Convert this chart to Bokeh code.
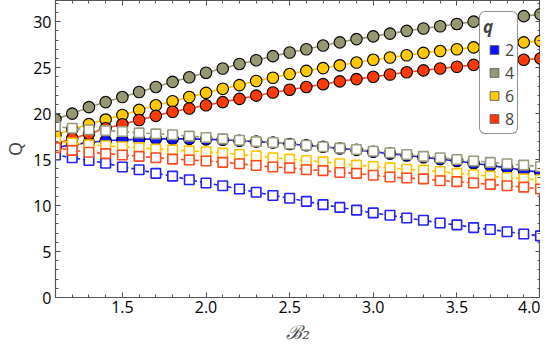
from bokeh.plotting import figure
from bokeh.models import (Range1d, LinearAxis, SingleIntervalTicker, Legend,
                          LegendItem, NumeralTickFormatter, CustomJSTickFormatter)
from bokeh.embed import file_html
from bokeh.resources import INLINE

# ---------------- data ----------------
B2 = [1.1, 1.2, 1.3, 1.4, 1.5, 1.6, 1.7, 1.8, 1.9, 2.0,
      2.1, 2.2, 2.3, 2.4, 2.5, 2.6, 2.7, 2.8, 2.9, 3.0,
      3.1, 3.2, 3.3, 3.4, 3.5, 3.6, 3.7, 3.8, 3.9, 4.0]

q_labels = ["2", "4", "6", "8"]

# solid lines with filled circles
circ_q2 = [16.3, 16.6, 16.85, 17.05, 17.15, 17.2, 17.25, 17.25, 17.25, 17.2,
           17.15, 17.05, 16.95, 16.85, 16.7, 16.55, 16.4, 16.2, 16.05, 15.85,
           15.65, 15.45, 15.25, 15.05, 14.85, 14.6, 14.35, 14.1, 13.85, 13.6]
circ_q4 = [19.4, 20.0, 20.7, 21.25, 21.8, 22.35, 22.9, 23.45, 23.95, 24.45,
           24.9, 25.4, 25.8, 26.25, 26.65, 27.0, 27.4, 27.75, 28.1, 28.4,
           28.7, 29.0, 29.25, 29.5, 29.75, 30.0, 30.2, 30.4, 30.6, 30.8]
circ_q6 = [17.7, 18.3, 18.85, 19.35, 19.85, 20.4, 20.9, 21.35, 21.8, 22.25,
           22.7, 23.1, 23.55, 23.9, 24.3, 24.65, 24.95, 25.25, 25.55, 25.85,
           26.1, 26.35, 26.6, 26.8, 27.0, 27.2, 27.4, 27.55, 27.75, 27.9]
circ_q8 = [16.7, 17.3, 17.8, 18.4, 18.85, 19.3, 19.75, 20.2, 20.55, 20.9,
           21.25, 21.6, 21.95, 22.3, 22.6, 22.9, 23.2, 23.5, 23.75, 24.0,
           24.25, 24.5, 24.7, 24.9, 25.1, 25.3, 25.5, 25.65, 25.85, 26.0]

# dashed lines with open squares
sq_q2 = [15.5, 15.2, 14.9, 14.6, 14.2, 13.9, 13.5, 13.2, 12.8, 12.45,
         12.15, 11.8, 11.45, 11.1, 10.8, 10.45, 10.1, 9.8, 9.5, 9.2,
         8.95, 8.65, 8.4, 8.1, 7.9, 7.6, 7.4, 7.15, 6.9, 6.7]
sq_q4 = [18.6, 18.4, 18.25, 18.15, 18.05, 17.9, 17.8, 17.7, 17.55, 17.4,
         17.25, 17.1, 16.95, 16.85, 16.7, 16.55, 16.4, 16.25, 16.1, 15.9,
         15.75, 15.55, 15.35, 15.2, 15.0, 14.85, 14.7, 14.55, 14.4, 14.25]
sq_q6 = [17.0, 16.8, 16.6, 16.5, 16.4, 16.3, 16.15, 16.05, 15.95, 15.85,
         15.7, 15.55, 15.4, 15.2, 15.05, 14.9, 14.75, 14.55, 14.4, 14.25,
         14.1, 13.95, 13.85, 13.7, 13.5, 13.35, 13.2, 13.05, 12.9, 12.8]
sq_q8 = [16.3, 16.0, 15.8, 15.65, 15.5, 15.35, 15.2, 15.05, 14.95, 14.85,
         14.7, 14.55, 14.35, 14.2, 14.1, 13.9, 13.8, 13.6, 13.5, 13.3,
         13.1, 13.0, 12.9, 12.7, 12.6, 12.45, 12.3, 12.15, 12.0, 11.8]

circ_series = [circ_q2, circ_q4, circ_q6, circ_q8]
sq_series = [sq_q2, sq_q4, sq_q6, sq_q8]

fill_cols = ["#1010ff", "#979772", "#ffc800", "#ff3a08"]
line_cols = ["#1a1aff", "#999978", "#ffc400", "#ff4418"]
sq_cols = ["#2020ff", "#9a9a7e", "#ffc400", "#ff4a1c"]

FONT = "Open Sans"

p = figure(width=540, height=345, x_range=Range1d(1.1, 4.0),
           y_range=Range1d(0, 32.3), output_backend="svg",
           toolbar_location=None, min_border_left=0, min_border_right=0,
           min_border_top=0, min_border_bottom=0)
p.grid.visible = False
p.outline_line_color = "#555555"
p.outline_line_width = 1.2
p.background_fill_color = "white"

xt = SingleIntervalTicker(interval=0.5, num_minor_ticks=5)
yt = SingleIntervalTicker(interval=5, num_minor_ticks=5)


def style_axis(ax):
    ax.axis_line_color = "#555555"
    ax.major_tick_in = 5
    ax.major_tick_out = 0
    ax.minor_tick_in = 3
    ax.minor_tick_out = 0
    ax.major_tick_line_color = "#444444"
    ax.minor_tick_line_color = "#555555"
    ax.major_label_text_font = FONT
    ax.major_label_text_font_size = "16px"
    ax.major_label_text_color = "black"


xa = p.xaxis[0]
xa.ticker = xt
xa.formatter = NumeralTickFormatter(format="0.0")
style_axis(xa)
xa.major_label_standoff = 3
xa.axis_label = "ℬ₂"
xa.axis_label_text_font = "DejaVu Serif"
xa.axis_label_text_font_style = "italic"
xa.axis_label_text_font_size = "19px"
xa.axis_label_standoff = 5

ya = p.yaxis[0]
ya.ticker = yt
style_axis(ya)
ya.major_label_standoff = 4
ya.axis_label = "Q"
ya.axis_label_text_font = FONT
ya.axis_label_text_font_style = "normal"
ya.axis_label_text_font_size = "18px"
ya.axis_label_standoff = 3

blank = CustomJSTickFormatter(code="return ''")

top = LinearAxis(ticker=SingleIntervalTicker(interval=0.5, num_minor_ticks=5),
                 formatter=blank)
style_axis(top)
top.major_label_text_font_size = "1px"
top.major_label_standoff = 0
p.add_layout(top, "above")

right = LinearAxis(ticker=SingleIntervalTicker(interval=5, num_minor_ticks=5),
                   formatter=blank)
style_axis(right)
right.major_label_text_font_size = "1px"
right.major_label_standoff = 0
p.add_layout(right, "right")

# circles with solid lines
for ys, fc, lc in zip(circ_series, fill_cols, line_cols):
    p.line(B2, ys, line_color=lc, line_width=1.6)
    p.scatter(B2, ys, marker="circle", size=11.5, fill_color=fc,
              line_color="black", line_width=1.1)

# squares with dashed lines
for ys, sc in zip(sq_series, sq_cols):
    p.line(B2, ys, line_color=sc, line_width=1.6, line_dash="4 3")
    p.scatter(B2, ys, marker="square", size=9.5, fill_color="white",
              line_color=sc, line_width=1.6)

# legend
nan = float("nan")
items = []
for lab, fc in zip(q_labels, fill_cols):
    r = p.scatter([nan], [nan], marker="square", size=10, fill_color=fc,
                  line_color="#555555", line_width=0.8)
    items.append(LegendItem(label=lab, renderers=[r]))

leg = Legend(items=items, location=(424, 163))
leg.title = "q"
leg.title_text_font = FONT
leg.title_text_font_style = "bold italic"
leg.title_text_font_size = "17px"
leg.title_standoff = 0
leg.label_text_font = FONT
leg.label_text_font_size = "16px"
leg.label_height = 23
leg.label_width = 8
leg.glyph_height = 23
leg.glyph_width = 22
leg.label_standoff = -4
leg.spacing = 0
leg.padding = 3
leg.margin = 0
leg.border_line_color = "#222222"
leg.border_line_width = 1
leg.background_fill_alpha = 1.0
if "border_radius" in Legend.properties():
    leg.border_radius = 6
p.add_layout(leg, "center")

open("out.html", "w").write(file_html(p, INLINE))
